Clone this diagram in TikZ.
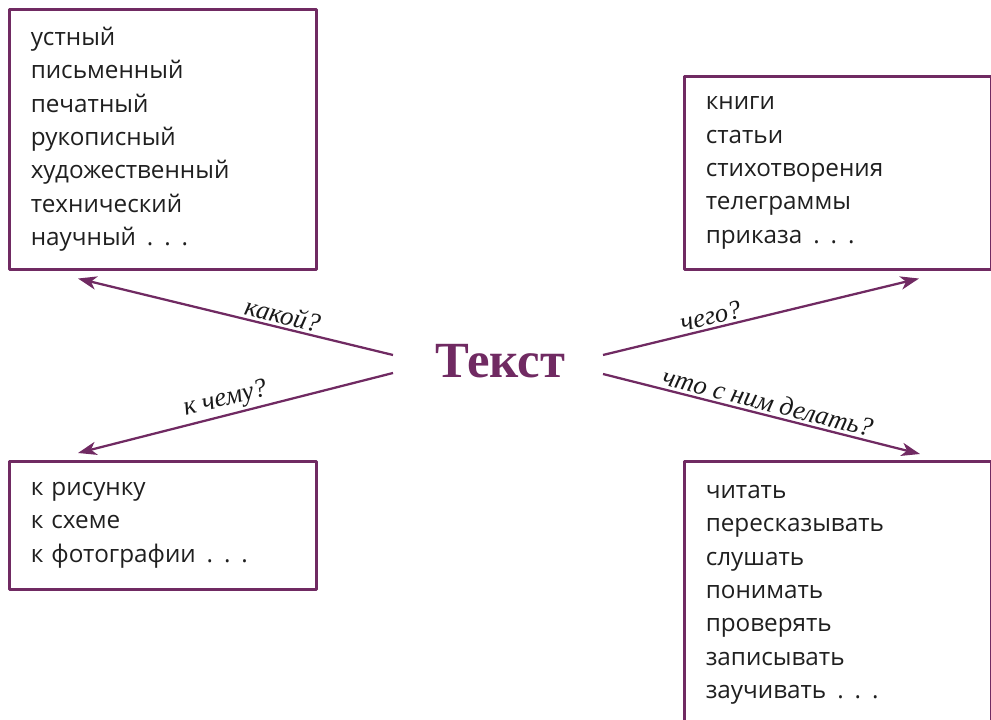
\documentclass[tikz,border=0pt]{standalone}
\usepackage{fontspec}
\setmainfont{Open Sans}
\newfontfamily\serifrm{Liberation Serif}
\usetikzlibrary{arrows.meta}
\definecolor{plum}{RGB}{112,42,98}
\newcommand\dts{\hspace{0.45em}.\hspace{0.45em}.\hspace{0.45em}.}
\begin{document}
\begin{tikzpicture}[x=0.75pt, y=0.75pt, line join=round, >=Stealth,
	box/.style={draw=plum, line width=1.9pt, anchor=north west, align=left, inner xsep=16pt,
		text width=198pt, minimum width=230.25pt, text=black!88, font=\fontsize{18.2}{25}\selectfont},
	arr/.style={draw=plum, line width=1.7pt, -{Stealth[length=14pt,width=10pt,inset=4pt]}},
	lbl/.style={font=\serifrm\itshape\fontsize{20}{20}\selectfont, sloped, above, inner sep=2pt, text=black!90}]
	\def \px{0.75pt}
	\useasboundingbox (0,0) rectangle (991,720);
	\clip (0,0) rectangle (991,720);
	\node[box, minimum height=260*\px] (kakoj) at (8,712)
		{устный\\письменный\\печатный\\рукописный\\художественный\\технический\\научный\dts};
	\node[box, minimum height=193*\px] (chego) at (683,645)
		{книги\\статьи\\стихотворения\\телеграммы\\приказа\dts};
	\node[box, minimum height=128*\px] (kchemu) at (8,260)
		{к рисунку\\к схеме\\к фотографии\dts};
	\node[box, minimum height=267*\px] (delat) at (683,260)
		{читать\\пересказывать\\слушать\\понимать\\проверять\\записывать\\заучивать\dts};
	\node[font=\serifrm\bfseries\fontsize{38}{38}\selectfont, text=plum, anchor=base] (tekst) at (500,342) {Текст};
	\path (tekst.base) ++(-107,23) coordinate (tl-start);
	\path (tekst.base) ++(-107,5) coordinate (bl-start);
	\path (tekst.base) ++(103,23) coordinate (tr-start);
	\path (tekst.base) ++(103,4) coordinate (br-start);
	\path (kakoj.south west) ++(70,-8) coordinate (tl-end);
	\path (chego.south west) ++(236,-8) coordinate (tr-end);
	\path (kchemu.north west) ++(70,7) coordinate (bl-end);
	\path (delat.north west) ++(237,6) coordinate (br-end);
	\draw[arr] (tl-start) -- node[lbl, pos=0.36] {какой?} (tl-end);
	\draw[arr] (bl-start) -- node[lbl, pos=0.52] {к чему?} (bl-end);
	\draw[arr] (tr-start) -- node[lbl, pos=0.35] {чего?} (tr-end);
	\draw[arr] (br-start) -- node[lbl, pos=0.51] {что с ним делать?} (br-end);
\end{tikzpicture}
\end{document}
